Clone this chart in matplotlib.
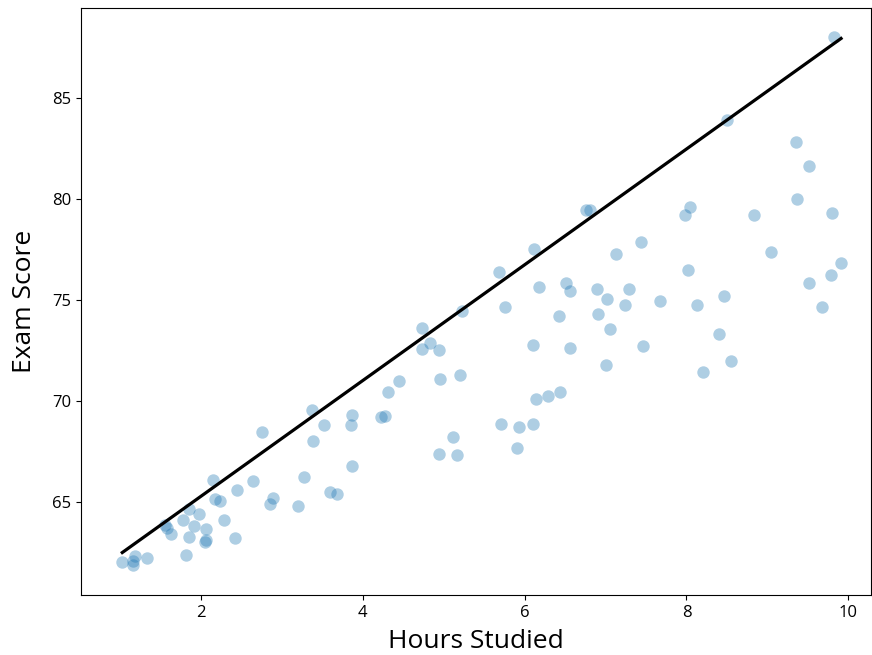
import numpy as np
import matplotlib
matplotlib.use("Agg")
import matplotlib.pyplot as plt

plt.rcParams["font.family"] = ["Open Sans", "DejaVu Sans"]

# hours studied vs exam score
hours = [
    2.76, 3.52, 3.39, 2.15, 2.65, 3.27, 2.45, 2.18, 2.24, 2.89,
    2.86, 3.20, 3.60, 3.68, 1.86, 1.98, 1.56, 1.58, 1.78, 1.91,
    2.29, 1.63, 2.07, 1.85, 2.06, 2.05, 2.42, 1.82, 1.03, 1.19,
    1.16, 1.16, 1.34,
    5.23, 4.73, 4.83, 4.73, 4.94, 4.45, 4.31, 4.95, 5.20, 3.38,
    3.87, 3.85, 4.23, 4.28, 5.11, 4.94, 5.16, 3.87,
    6.12, 5.69, 7.44, 7.13, 8.02, 6.18, 6.51, 6.56, 6.89, 7.29,
    7.02, 7.24, 7.67, 8.13, 5.76, 6.42, 6.91, 7.05, 6.11, 6.56,
    7.46, 7.00, 8.20, 6.14, 6.29, 6.44, 5.71, 5.93, 6.11, 5.91,
    9.82, 8.50, 9.35, 9.51, 9.37, 9.80, 8.05, 7.98, 8.84, 9.05,
    9.91, 9.79, 9.51, 8.47, 9.68, 8.40, 8.55,
    6.76, 6.81,
]
scores = [
    68.48, 68.83, 68.03, 66.08, 66.05, 66.24, 65.60, 65.16, 65.05, 65.18,
    64.92, 64.80, 65.51, 65.38, 64.64, 64.39, 63.86, 63.72, 64.10, 63.81,
    64.10, 63.44, 63.67, 63.27, 63.14, 63.02, 63.22, 62.40, 62.03, 62.31,
    62.06, 61.87, 62.23,
    74.47, 73.59, 72.88, 72.56, 72.51, 70.99, 70.44, 71.07, 71.27, 69.58,
    69.31, 68.83, 69.19, 69.28, 68.20, 67.37, 67.32, 66.79,
    77.54, 76.38, 77.87, 77.27, 76.46, 75.66, 75.86, 75.46, 75.55, 75.55,
    75.03, 74.75, 74.95, 74.75, 74.67, 74.20, 74.30, 73.57, 72.78, 72.61,
    72.71, 71.80, 71.43, 70.09, 70.27, 70.44, 68.85, 68.73, 68.85, 67.67,
    88.02, 83.91, 82.80, 81.63, 80.02, 79.31, 79.59, 79.23, 79.23, 77.35,
    76.83, 76.24, 75.83, 75.20, 74.67, 73.31, 71.98,
    79.43, 79.44,
]

# upper trend line
line_intercept = 59.55
line_slope = 2.865

x = np.array(hours)
y = np.array(scores)
x_line = np.sort(x)
y_line = line_intercept + line_slope * x_line

fig = plt.figure(figsize=(8.72, 6.55), dpi=100)
ax = fig.add_axes([81 / 872, 1 - 595 / 655, 790 / 872, 587 / 655])

ax.scatter(x, y, s=80, color="#1f77b4", alpha=0.36, linewidths=0)
ax.plot(x_line, y_line, color="black", linewidth=2.3)

ax.set_xlim(0.52, 10.28)
ax.set_ylim(60.4, 89.45)
ax.set_xticks([2, 4, 6, 8, 10])
ax.set_yticks([65, 70, 75, 80, 85])
ax.tick_params(labelsize=12)
ax.set_xlabel("Hours Studied", fontsize=19, labelpad=6)
ax.set_ylabel("Exam Score", fontsize=19, labelpad=11)

fig.savefig("out.png", dpi=100)
